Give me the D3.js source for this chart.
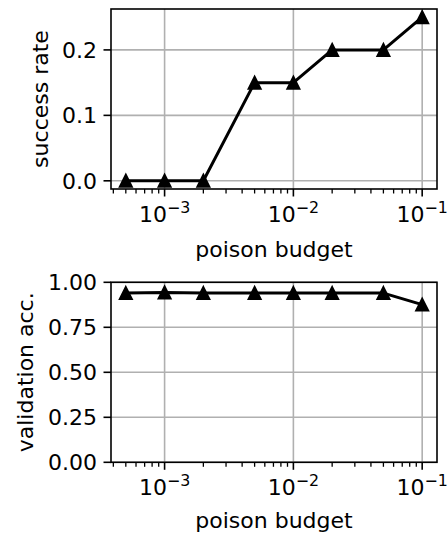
<!DOCTYPE html>
<html>
<head>
<meta charset="utf-8">
<script src="https://cdn.jsdelivr.net/npm/d3@7"></script>
<style>
  body { margin: 0; background: #fff; }
  svg text { font-family: "DejaVu Sans", sans-serif; fill: #000; }
</style>
</head>
<body>
<div id="chart"></div>
<script>
// data
var budgets = [5e-4, 1e-3, 2e-3, 5e-3, 1e-2, 2e-2, 5e-2, 1e-1];
var successRate = [0, 0, 0, 0.15, 0.15, 0.2, 0.2, 0.25];
var validationAcc = [0.94, 0.943, 0.94, 0.941, 0.94, 0.94, 0.94, 0.876];
var successTicks = [0.0, 0.1, 0.2];
var accTicks = [0.0, 0.25, 0.5, 0.75, 1.0];
var xDecades = [-3, -2, -1];

var W = 448, H = 534;
var svg = d3.select("#chart").append("svg")
    .attr("width", W).attr("height", H);

var left = 111, right = 437;
var lo = Math.log10(5e-4), hi = Math.log10(1e-1), pad = (hi - lo) * 0.05;
var x = d3.scaleLog()
    .domain([Math.pow(10, lo - pad), Math.pow(10, hi + pad)])
    .range([left, right]);

var fs = 22;

function panel(top, bottom, yDomain, yTicks, fmt, values, ylabel, ylabelX, xlabelY) {
  var y = d3.scaleLinear().domain(yDomain).range([bottom, top]);
  var g = svg.append("g");

  // grid
  g.selectAll(".gx").data(xDecades).enter().append("line")
      .attr("x1", d => x(Math.pow(10, d))).attr("x2", d => x(Math.pow(10, d)))
      .attr("y1", top).attr("y2", bottom)
      .attr("stroke", "#b0b0b0").attr("stroke-width", 1.6);
  g.selectAll(".gy").data(yTicks).enter().append("line")
      .attr("x1", left).attr("x2", right)
      .attr("y1", d => y(d)).attr("y2", d => y(d))
      .attr("stroke", "#b0b0b0").attr("stroke-width", 1.6);

  // minor x ticks
  var minors = [];
  for (var e = -4; e <= -1; e++) {
    for (var m = 2; m <= 9; m++) {
      var v = m * Math.pow(10, e);
      if (x(v) >= left - 0.5 && x(v) <= right + 0.5) minors.push(v);
    }
  }
  g.selectAll(".mt").data(minors).enter().append("line")
      .attr("x1", d => x(d)).attr("x2", d => x(d))
      .attr("y1", bottom).attr("y2", bottom + 4.5)
      .attr("stroke", "#000").attr("stroke-width", 1.3);

  // major x ticks + labels
  g.selectAll(".Mt").data(xDecades).enter().append("line")
      .attr("x1", d => x(Math.pow(10, d))).attr("x2", d => x(Math.pow(10, d)))
      .attr("y1", bottom).attr("y2", bottom + 7.5)
      .attr("stroke", "#000").attr("stroke-width", 1.6);
  var xl = g.selectAll(".xl").data(xDecades).enter().append("text")
      .attr("x", d => x(Math.pow(10, d)))
      .attr("y", bottom + 33)
      .attr("text-anchor", "middle")
      .attr("font-size", fs);
  xl.append("tspan").text("10");
  xl.append("tspan").attr("dy", -9).attr("font-size", fs * 0.72)
      .text(d => "\u2212" + Math.abs(d));

  // y ticks + labels
  g.selectAll(".yt").data(yTicks).enter().append("line")
      .attr("x1", left - 7.5).attr("x2", left)
      .attr("y1", d => y(d)).attr("y2", d => y(d))
      .attr("stroke", "#000").attr("stroke-width", 1.6);
  g.selectAll(".yl").data(yTicks).enter().append("text")
      .attr("x", left - 14).attr("y", d => y(d))
      .attr("dy", "0.36em")
      .attr("text-anchor", "end")
      .attr("font-size", fs)
      .text(fmt);

  // data line
  var pts = budgets.map((b, i) => [b, values[i]]);
  g.append("path")
      .datum(pts)
      .attr("fill", "none").attr("stroke", "#000").attr("stroke-width", 3)
      .attr("stroke-linejoin", "round")
      .attr("d", d3.line().x(d => x(d[0])).y(d => y(d[1])));
  g.selectAll(".mk").data(pts).enter().append("path")
      .attr("transform", d => "translate(" + x(d[0]) + "," + y(d[1]) + ")")
      .attr("d", "M0,-6L6,6L-6,6Z")
      .attr("fill", "#000").attr("stroke", "#000").attr("stroke-width", 2)
      .attr("stroke-linejoin", "miter");

  // frame
  g.append("rect")
      .attr("x", left).attr("y", top)
      .attr("width", right - left).attr("height", bottom - top)
      .attr("fill", "none").attr("stroke", "#000").attr("stroke-width", 1.6);

  // labels
  g.append("text")
      .attr("x", (left + right) / 2).attr("y", xlabelY)
      .attr("text-anchor", "middle").attr("font-size", fs)
      .text("poison budget");
  g.append("text")
      .attr("transform", "translate(" + ylabelX + "," + ((top + bottom) / 2) + ")rotate(-90)")
      .attr("text-anchor", "middle").attr("font-size", fs)
      .text(ylabel);
}

panel(9, 189, [-0.0125, 0.2625], successTicks, d => d.toFixed(1), successRate, "success rate", 48, 257);
panel(282.3, 462.3, [0, 1], accTicks, d => d.toFixed(2), validationAcc, "validation acc.", 33, 527.5);
</script>
</body>
</html>
